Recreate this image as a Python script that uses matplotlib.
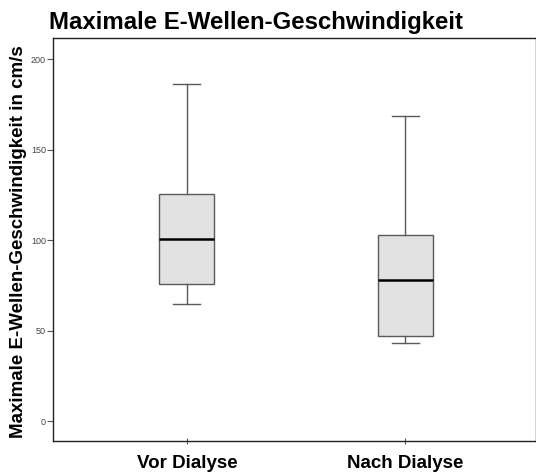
import matplotlib
matplotlib.use("Agg")
import matplotlib.pyplot as plt

plt.rcParams['font.family'] = ['Liberation Sans', 'DejaVu Sans']

categories = ["Vor Dialyse", "Nach Dialyse"]
whislo = [64.6, 43.3]
q1 = [75.9, 47.1]
med = [100.5, 77.9]
q3 = [125.2, 102.9]
whishi = [186.2, 168.7]
yticks = [0, 50, 100, 150, 200]

fig = plt.figure(figsize=(5.36, 4.74), dpi=100)
ax = fig.add_axes([53/536, 1-441/474, 1-53/536, (441-38)/474])

stats = []
for i, c in enumerate(categories):
    stats.append(dict(label=c, whislo=whislo[i], q1=q1[i], med=med[i], q3=q3[i], whishi=whishi[i], fliers=[]))

ax.bxp(stats, positions=[1, 2], widths=0.25, patch_artist=True, showfliers=False,
       boxprops=dict(facecolor='#e2e2e2', edgecolor='#5a5a5a', linewidth=1.0),
       whiskerprops=dict(color='#5a5a5a', linewidth=1.0),
       capprops=dict(color='#5a5a5a', linewidth=1.0),
       medianprops=dict(color='black', linewidth=1.8))

ax.set_xlim(0.388, 2.597)
ax.set_ylim(-11, 211.6)
ax.set_yticks(yticks)
ax.set_yticklabels([str(t) for t in yticks], fontsize=6.5, color='#444444')
ax.set_xticks([1, 2])
ax.set_xticklabels(categories, fontsize=13.5, fontweight='bold')
ax.tick_params(axis='y', length=4, width=0.8, color='#555555', pad=1)
ax.tick_params(axis='x', length=4, width=0.8, color='#555555', pad=8, direction='inout')
for s in ax.spines.values():
    s.set_linewidth(1.0)
    s.set_color('#222222')

fig.text(19/536, 1-242/474, "Maximale E-Wellen-Geschwindigkeit in cm/s", fontsize=13.5,
         fontweight='bold', rotation=90, ha='center', va='center')
fig.text(49/536, 1-22/474, "Maximale E-Wellen-Geschwindigkeit", fontsize=17.3, fontweight='bold', ha='left', va='center')

fig.savefig("out.png", dpi=100)
